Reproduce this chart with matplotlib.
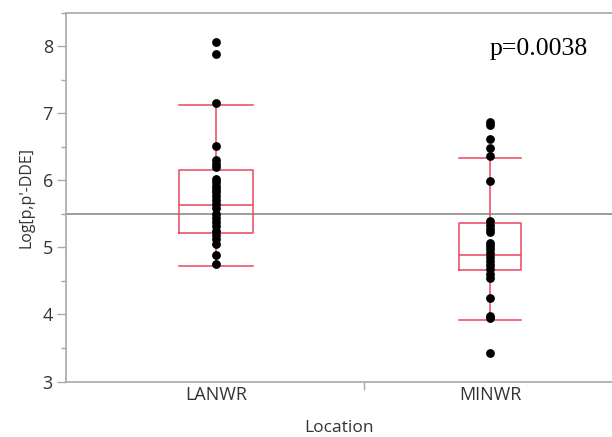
import numpy as np
import matplotlib
matplotlib.use("Agg")
import matplotlib.pyplot as plt
from matplotlib.ticker import MultipleLocator, FixedLocator

# --- Data ---
CATEGORIES = ["LANWR", "MINWR"]

LANWR = [8.07, 7.88, 7.15, 6.51, 6.30, 6.25, 6.20, 6.02, 5.97, 5.92, 5.87,
         5.82, 5.76, 5.70, 5.64, 5.58, 5.50, 5.44, 5.38, 5.32, 5.24, 5.18,
         5.12, 5.05, 4.88, 4.75]
MINWR = [6.87, 6.83, 6.62, 6.48, 6.36, 5.99, 5.39, 5.33, 5.28, 5.23, 5.07,
         5.02, 4.97, 4.92, 4.86, 4.80, 4.74, 4.68, 4.60, 4.54, 4.24, 3.98,
         3.94, 3.43]

# box statistics as JMP drew them
Q1 = [5.22, 4.66]
MEDIAN = [5.63, 4.89]
Q3 = [6.16, 5.37]
WHISK_LO = [4.72, 3.91]
WHISK_HI = [7.12, 6.34]

GRAND_MEAN = 5.5
P_TEXT = "p=0.0038"

# --- Style ---
RED = "#e8465c"
AXIS = "#a8a8a8"
TEXT = "#333333"
FONT = "Open Sans"

fig = plt.figure(figsize=(6.12, 4.37), dpi=100, facecolor="white")
ax = fig.add_axes([0.1078, 0.127, 0.8922, 0.844])

positions = [0, 1]
widths = [0.27, 0.226]

stats = []
for i, name in enumerate(CATEGORIES):
    stats.append(dict(label=name, q1=Q1[i], med=MEDIAN[i], q3=Q3[i],
                      whislo=WHISK_LO[i], whishi=WHISK_HI[i], fliers=[]))

lw = 1.1
ax.bxp(stats, positions=positions, widths=widths, showfliers=False,
       boxprops=dict(color=RED, linewidth=lw),
       medianprops=dict(color=RED, linewidth=lw),
       whiskerprops=dict(color=RED, linewidth=lw),
       capprops=dict(color=RED, linewidth=lw),
       capwidths=widths, zorder=2)

# grand mean line
ax.axhline(GRAND_MEAN, color="#8a8a8a", linewidth=1.2, zorder=1)

# points
for pos, vals in zip(positions, [LANWR, MINWR]):
    ax.scatter(np.full(len(vals), pos), vals, s=40, color="black",
               linewidth=0, zorder=3)

ax.set_xlim(-0.546, 1.443)
ax.set_ylim(3, 8.5)

ax.set_xticks(positions)
ax.set_xticklabels(CATEGORIES, fontsize=13, color=TEXT, family=FONT)
ax.tick_params(axis="x", length=0, pad=3)
ax.xaxis.set_minor_locator(FixedLocator([0.539]))
ax.tick_params(axis="x", which="minor", length=6, width=1.0, color=AXIS)

ax.yaxis.set_major_locator(MultipleLocator(1))
ax.yaxis.set_minor_locator(MultipleLocator(0.5))
ax.tick_params(axis="y", which="major", length=6.5, width=1.0, color=AXIS,
               labelsize=13, labelcolor=TEXT, pad=3)
ax.tick_params(axis="y", which="minor", length=3.5, width=1.0, color=AXIS)
for lab in ax.get_yticklabels():
    lab.set_family(FONT)

for side in ["left", "bottom", "top"]:
    ax.spines[side].set_color(AXIS)
    ax.spines[side].set_linewidth(1.2)
ax.spines["right"].set_visible(False)

ax.set_xlabel("Location", fontsize=12.5, color=TEXT, family=FONT, labelpad=12)
ax.set_ylabel("Log[p,p'-DDE]", fontsize=11.5, color=TEXT, family=FONT, labelpad=6)

fig.text(490 / 612, 1 - 55 / 437, P_TEXT, fontsize=18.5, family="Liberation Serif",
         color="black", ha="left", va="baseline")

fig.savefig("out.png", dpi=100, facecolor="white")
